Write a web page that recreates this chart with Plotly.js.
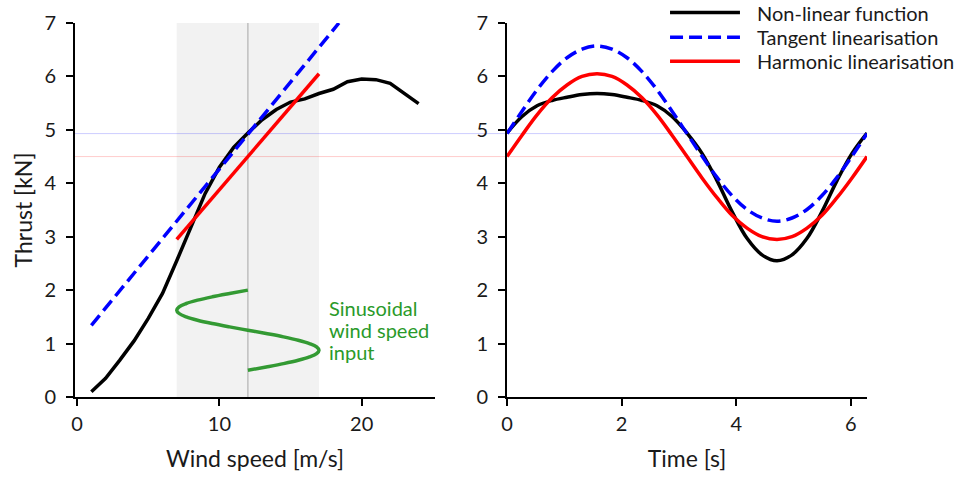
<!DOCTYPE html>
<html>
<head>
<meta charset="utf-8">
<script src="https://cdn.plot.ly/plotly-3.0.1.min.js"></script>
<style>html,body{margin:0;padding:0;background:#fff}#chart{width:958px;height:478px}</style>
</head>
<body>
<div id="chart"></div>
<script>
// Left panel: thrust curve vs wind speed
const windSpeed = [1,2,3,4,5,6,7,8,9,10,11,12,13,14,15,16,17,18,19,20,21,22,23,24];
const thrustCurve = [0.10,0.35,0.69,1.05,1.47,1.94,2.55,3.18,3.81,4.30,4.67,4.94,5.19,5.38,5.52,5.58,5.68,5.76,5.90,5.95,5.94,5.87,5.68,5.49];
const tangentWind = [1, 18.4];
const tangentThrust = [1.34, 7.0];
const harmonicWind = [7, 17];
const harmonicThrust = [2.95, 6.05];
// Sinusoidal wind speed input drawn in the left panel
const inputWind = [12,10.71,9.5,8.46,7.67,7.17,7,7.17,7.67,8.46,9.5,10.71,12,13.29,14.5,15.54,16.33,16.83,17,16.83,16.33,15.54,14.5,13.29,12];
const inputLevel = [2.0,1.9375,1.875,1.8125,1.75,1.6875,1.625,1.5625,1.5,1.4375,1.375,1.3125,1.25,1.1875,1.125,1.0625,1.0,0.9375,0.875,0.8125,0.75,0.6875,0.625,0.5625,0.5];
// Right panel: thrust response vs time
const time = [0,0.2618,0.5236,0.7854,1.0472,1.3090,1.5708,1.8326,2.0944,2.3562,2.6180,2.8798,3.1416,3.4034,3.6652,3.9270,4.1888,4.4506,4.7124,4.9742,5.2360,5.4978,5.7596,6.0214,6.2832];
const nonLinearT = [4.94,5.25,5.45,5.55,5.61,5.66,5.68,5.66,5.61,5.55,5.45,5.25,4.94,4.56,4.05,3.47,2.97,2.66,2.55,2.66,2.97,3.47,4.05,4.56,4.94];
const tangentT = [4.93,5.35,5.75,6.09,6.35,6.51,6.57,6.51,6.35,6.09,5.75,5.35,4.93,4.51,4.11,3.77,3.51,3.35,3.29,3.35,3.51,3.77,4.11,4.51,4.93];
const harmonicT = [4.50,4.90,5.28,5.60,5.84,6.00,6.05,6.00,5.84,5.60,5.28,4.90,4.50,4.10,3.73,3.40,3.16,3.00,2.95,3.00,3.16,3.40,3.73,4.10,4.50];
const meanTangent = 4.93;
const meanHarmonic = 4.5;
const windCentre = 12;
const windMin = 7, windMax = 17;
const seriesNames = ['Non-linear function','Tangent linearisation','Harmonic linearisation'];
const inputLabel = ['Sinusoidal','wind speed','input'];

const FONT = 'Lato, "Noto Sans", sans-serif';
const TXT = '#1a1a1a';
const BLACK = '#000000', BLUE = '#0000ff', RED = '#ff0000', GREEN = '#339a33';
const LW = 3.5;
const DASH = '13px,6px';

const traces = [
  {x: windSpeed, y: thrustCurve, xaxis:'x', yaxis:'y', mode:'lines', name: seriesNames[0], line:{color:BLACK, width:LW}, showlegend:false},
  {x: tangentWind, y: tangentThrust, xaxis:'x', yaxis:'y', mode:'lines', name: seriesNames[1], line:{color:BLUE, width:LW, dash:DASH}, showlegend:false},
  {x: harmonicWind, y: harmonicThrust, xaxis:'x', yaxis:'y', mode:'lines', name: seriesNames[2], line:{color:RED, width:LW}, showlegend:false},
  {x: inputWind, y: inputLevel, xaxis:'x', yaxis:'y', mode:'lines', name:'Wind speed input', line:{color:GREEN, width:LW, shape:'spline'}, showlegend:false},
  {x: time, y: nonLinearT, xaxis:'x2', yaxis:'y2', mode:'lines', name: seriesNames[0], line:{color:BLACK, width:LW, shape:'spline'}, showlegend:false},
  {x: time, y: tangentT, xaxis:'x2', yaxis:'y2', mode:'lines', name: seriesNames[1], line:{color:BLUE, width:LW, dash:DASH, shape:'spline'}, showlegend:false},
  {x: time, y: harmonicT, xaxis:'x2', yaxis:'y2', mode:'lines', name: seriesNames[2], line:{color:RED, width:LW, shape:'spline'}, showlegend:false}
];

const axisCommon = {
  showgrid:false, zeroline:false, showline:true, linecolor:'#000', linewidth:2,
  ticks:'outside', ticklen:7, tickwidth:2, tickcolor:'#000',
  tickfont:{family:FONT, size:20, color:TXT}
};
const titleFont = {family:FONT, size:23, color:TXT};

// manual legend (top right)
const legY = [1.028, 0.962, 0.898];
const legColors = [BLACK, BLUE, RED];
const legDash = ['solid', DASH, 'solid'];
const shapes = [
  {type:'rect', xref:'x', yref:'y domain', x0:windMin, x1:windMax, y0:0, y1:1, fillcolor:'rgba(128,128,128,0.1)', line:{width:0}, layer:'below'},
  {type:'line', xref:'x', yref:'y domain', x0:windCentre, x1:windCentre, y0:0, y1:1, line:{color:'rgba(150,150,150,0.55)', width:1.5}, layer:'below'},
  {type:'line', xref:'paper', yref:'y', x0:0, x1:1, y0:meanTangent, y1:meanTangent, line:{color:'rgba(0,0,255,0.2)', width:1}, layer:'below'},
  {type:'line', xref:'paper', yref:'y', x0:0, x1:1, y0:meanHarmonic, y1:meanHarmonic, line:{color:'rgba(255,0,0,0.2)', width:1}, layer:'below'}
];
const annotations = [];
for (let i = 0; i < 3; i++) {
  shapes.push({type:'line', xref:'paper', yref:'paper', x0:0.7513, x1:0.8396, y0:legY[i], y1:legY[i], line:{color:legColors[i], width:LW, dash:legDash[i]}});
  annotations.push({xref:'paper', yref:'paper', x:0.8590, y:legY[i], xanchor:'left', yanchor:'middle', showarrow:false, text:seriesNames[i], font:{family:FONT, size:20, color:TXT}});
}
const labY = [1.657, 1.248, 0.836];
for (let i = 0; i < 3; i++) {
  annotations.push({xref:'x', yref:'y', x:17.55, y:labY[i], xanchor:'left', yanchor:'middle', showarrow:false, text:inputLabel[i], font:{family:FONT, size:20, color:'#2a9a2a'}});
}

const layout = {
  width:958, height:478,
  margin:{l:75, r:91, t:23, b:81},
  paper_bgcolor:'#fff', plot_bgcolor:'rgba(0,0,0,0)',
  showlegend:false,
  font:{family:FONT, size:20, color:TXT},
  xaxis: Object.assign({}, axisCommon, {domain:[0,0.4545], range:[-0.15,25.15], dtick:10, tick0:0, ticklabelstandoff:1,
    title:{text:'Wind speed [m/s]', font:titleFont, standoff:17}}),
  yaxis: Object.assign({}, axisCommon, {domain:[0,1], range:[0,7], dtick:1, tick0:0, ticklabelstandoff:6,
    title:{text:'Thrust [kN]', font:titleFont, standoff:5}}),
  xaxis2: Object.assign({}, axisCommon, {domain:[0.5455,1], anchor:'y2', range:[0,6.2832], dtick:2, tick0:0, ticklabelstandoff:1,
    title:{text:'Time [s]', font:titleFont, standoff:17}}),
  yaxis2: Object.assign({}, axisCommon, {domain:[0,1], anchor:'x2', range:[0,7], dtick:1, tick0:0, ticklabelstandoff:6}),
  shapes: shapes,
  annotations: annotations
};

Plotly.newPlot('chart', traces, layout, {staticPlot:true, displayModeBar:false});
</script>
</body>
</html>
